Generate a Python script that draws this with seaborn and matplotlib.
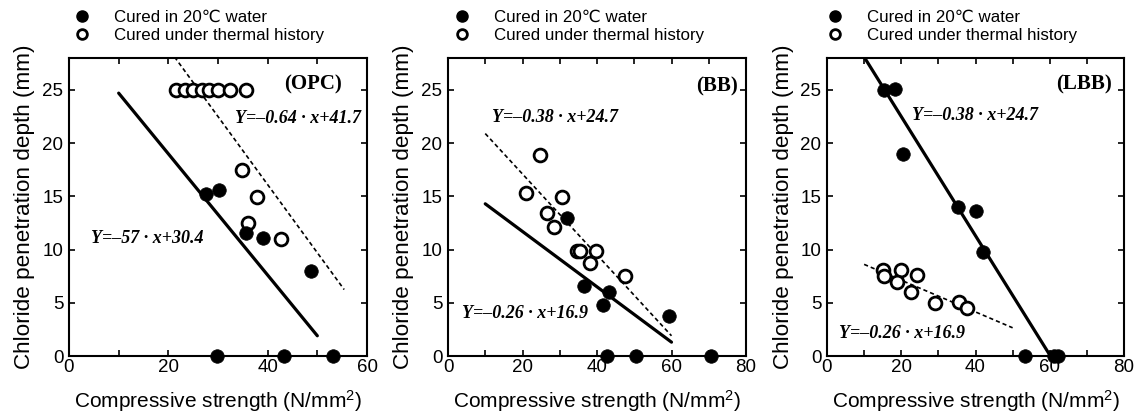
import numpy as np
import pandas as pd
import seaborn as sns
import matplotlib
matplotlib.use("Agg")
import matplotlib.pyplot as plt
from matplotlib.lines import Line2D

# ---------------- data ----------------
panels = ["(OPC)", "(BB)", "(LBB)"]
xmax = [60, 80, 80]

# OPC
opc_water_x = [27.5, 30.2, 35.7, 39.1, 48.8, 29.8, 43.2, 53.2]
opc_water_y = [15.25, 15.6, 11.6, 11.1, 8.0, 0, 0, 0]
opc_therm_x = [21.6, 23.4, 25.0, 26.8, 28.2, 30.1, 32.5, 35.6, 34.9, 37.9, 36.1, 42.6]
opc_therm_y = [25, 25, 25, 25, 25, 25, 25, 25, 17.5, 14.9, 12.5, 11.0]

# BB
bb_water_x = [31.9, 36.6, 43.1, 41.5, 59.2, 42.8, 50.4, 70.7]
bb_water_y = [13.0, 6.6, 6.0, 4.8, 3.8, 0, 0, 0]
bb_therm_x = [24.7, 20.9, 30.6, 26.5, 28.5, 34.6, 35.5, 39.7, 38.2, 47.6]
bb_therm_y = [18.9, 15.3, 14.9, 13.4, 12.1, 9.9, 9.9, 9.9, 8.7, 7.5]

# LBB
lbb_water_x = [15.4, 18.4, 20.6, 35.4, 40.1, 42.1, 53.3, 61.1, 62.2]
lbb_water_y = [25.0, 25.1, 19.0, 14.0, 13.6, 9.8, 0, 0, 0]
lbb_therm_x = [15.2, 15.4, 19.9, 18.8, 24.2, 22.6, 29.1, 35.6, 37.6]
lbb_therm_y = [8.1, 7.5, 8.1, 7.0, 7.6, 6.0, 5.0, 5.1, 4.5]

water_x = [opc_water_x, bb_water_x, lbb_water_x]
water_y = [opc_water_y, bb_water_y, lbb_water_y]
therm_x = [opc_therm_x, bb_therm_x, lbb_therm_x]
therm_y = [opc_therm_y, bb_therm_y, lbb_therm_y]

# fitted lines (slope, intercept, x-range) as drawn
water_fit = [(-0.57, 30.4, 10, 50), (-0.26, 16.9, 10, 60), (-0.56, 33.7, 10, 60.2)]
therm_fit = [(-0.64, 41.7, 10, 55.4), (-0.38, 24.7, 10, 60), (-0.149, 10.1, 10, 50)]

# equation labels (text)
water_eq = ["Y=\u201357 \u00b7 x+30.4", "Y=\u20130.26 \u00b7 x+16.9", "Y=\u20130.38 \u00b7 x+24.7"]
therm_eq = ["Y=\u20130.64 \u00b7 x+41.7", "Y=\u20130.38 \u00b7 x+24.7", "Y=\u20130.26 \u00b7 x+16.9"]

legend_labels = ["Cured in 20\u2103 water", "Cured under thermal history"]

# ---------------- style ----------------
sns.set_style("ticks")
plt.rcParams["font.family"] = ["Liberation Sans", "DejaVu Sans", "Noto Sans CJK SC"]
plt.rcParams["mathtext.fontset"] = "custom"
plt.rcParams["mathtext.rm"] = "Liberation Sans"
plt.rcParams["mathtext.it"] = "Liberation Sans:italic"
for key in ["text.color", "axes.labelcolor", "xtick.color", "ytick.color", "axes.edgecolor"]:
    plt.rcParams[key] = "black"

fig = plt.figure(figsize=(11.44, 4.19), dpi=100)
W, H = 1144, 419
axes_px = [(69, 367), (448, 746), (827, 1124)]
top_px, bot_px = 58, 356

water_eq_pos = [(15.7, 11.0), (20.8, 4.0), (40.0, 22.6)]
therm_eq_pos = [(46.2, 22.3), (28.7, 22.4), (20.3, 2.1)]
title_pos = [(49.2, 25.5), (72.1, 25.3), (69.1, 25.5)]
legend_left = [74, 454, 827]

serif = ["Liberation Serif", "DejaVu Serif"]

for i in range(3):
    l, r = axes_px[i]
    ax = fig.add_axes([l / W, (H - bot_px) / H, (r - l) / W, (bot_px - top_px) / H])

    wf = water_fit[i]
    tf = therm_fit[i]
    lx_w = np.array([wf[2], wf[3]])
    lx_t = np.array([tf[2], tf[3]])
    dfw = pd.DataFrame({"x": lx_w, "y": wf[0] * lx_w + wf[1]})
    dft = pd.DataFrame({"x": lx_t, "y": tf[0] * lx_t + tf[1]})
    sns.lineplot(data=dfw, x="x", y="y", ax=ax, color="black", lw=2.3, zorder=2)
    sns.lineplot(data=dft, x="x", y="y", ax=ax, color="black", lw=1.2,
                 linestyle=(0, (2.5, 1.8)), zorder=2)

    sns.scatterplot(x=water_x[i], y=water_y[i], ax=ax, s=95, color="black",
                    edgecolor="black", linewidth=0.5, clip_on=False, zorder=4)
    sns.scatterplot(x=therm_x[i], y=therm_y[i], ax=ax, s=85, facecolor="white",
                    edgecolor="black", linewidth=2.0, clip_on=False, zorder=3)

    ax.set_xlim(0, xmax[i])
    ax.set_ylim(0, 28)
    ax.set_xticks(np.arange(0, xmax[i] + 1, 10))
    ax.set_xticklabels([str(v) if v % 20 == 0 else "" for v in range(0, xmax[i] + 1, 10)])
    ax.set_yticks([0, 5, 10, 15, 20, 25])
    ax.tick_params(direction="in", top=True, right=True, length=4, width=1.2,
                   labelsize=13.5, pad=2, colors="black")
    ax.tick_params(axis="y", pad=4)
    for sp in ax.spines.values():
        sp.set_linewidth(1.5)
        sp.set_color("black")
        sp.set_visible(True)

    ax.set_xlabel("Compressive strength (N/mm$^2$)", fontsize=15, labelpad=9, color="black")
    ax.set_ylabel("Chloride penetration depth (mm)", fontsize=16.2, labelpad=5, color="black")

    ax.text(*title_pos[i], panels[i], fontsize=15, fontweight="bold",
            family=serif, ha="center", va="center", color="black")
    ax.text(*water_eq_pos[i], water_eq[i], fontsize=13, fontweight="bold",
            style="italic", family=serif, ha="center", va="center", color="black")
    ax.text(*therm_eq_pos[i], therm_eq[i], fontsize=13, fontweight="bold",
            style="italic", family=serif, ha="center", va="center", color="black")

    handles = [
        Line2D([], [], marker="o", ls="", color="black", markersize=8),
        Line2D([], [], marker="o", ls="", markerfacecolor="white",
               markeredgecolor="black", markeredgewidth=2, markersize=7),
    ]
    leg = ax.legend(handles, legend_labels, loc="upper left",
                    bbox_to_anchor=(legend_left[i] / W, 1 - 10 / H),
                    bbox_transform=fig.transFigure, frameon=False, fontsize=12.2,
                    borderpad=0, borderaxespad=0, handlelength=1.0,
                    handletextpad=1.35, labelspacing=0.15)
    for t in leg.get_texts():
        t.set_color("black")

fig.savefig("out.png", dpi=100)
